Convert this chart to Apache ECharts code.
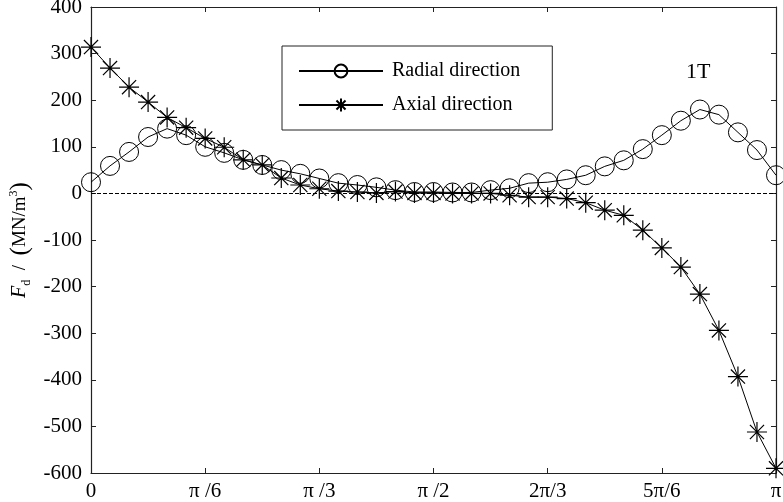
<!DOCTYPE html>
<html><head><meta charset="utf-8">
<script src="https://cdn.jsdelivr.net/npm/echarts@6/dist/echarts.min.js"></script>
<style>html,body{margin:0;padding:0;background:#fff}#c{width:783px;height:502px}</style>
</head><body><div id="c"></div>
<script>
const angles = [0,5,10,15,20,25,30,35,40,45,50,55,60,65,70,75,80,85,90,95,100,105,110,115,120,125,130,135,140,145,150,155,160,165,170,175,180];
const radial = [24,59,89,121,139,125,100,87,72,61,50,42,32,22,18,13,7,3,3,2,2,7,11,22,24,30,39,58,71,95,125,156,180,169,131,93,39];
const axial = [314,269,228,196,163,141,118,99,72,61,33,18,10,5,3,1,4,1,1,0,0,0,-4,-8,-8,-11,-20,-36,-47,-79,-117,-158,-216,-294,-393,-512,-590];
const xTickLabels = {0:'0',30:'\u03c0 /6',60:'\u03c0 /3',90:'\u03c0 /2',120:'2\u03c0/3',150:'5\u03c0/6',180:'\u03c0'};
const seriesNames = ['Radial direction','Axial direction'];

const FONT = '"Liberation Serif","Times New Roman",serif';
const star = 'path://M0,-10L0,10M-10,0L10,0M-7.07,-7.07L7.07,7.07M-7.07,7.07L7.07,-7.07';
const chart = echarts.init(document.getElementById('c'));
const axisLine = {show:true, onZero:false, lineStyle:{color:'#222', width:1.2}};
const tick = {show:true, inside:true, length:5, lineStyle:{color:'#222'}};
chart.setOption({
  animation:false,
  backgroundColor:'#fff',
  grid:{left:91, right:7, top:7, bottom:29, containLabel:false, outerBoundsMode:'none'},
  legend:{
    orient:'vertical', left:282, top:46,
    data:seriesNames,
    itemWidth:84, itemHeight:16, itemGap:14,
    borderColor:'#222', borderWidth:1,
    padding:[15,32,15,16],
    textStyle:{fontFamily:FONT, fontSize:20, color:'#000', padding:[0,0,0,4]}
  },
  xAxis:[{
    type:'value', min:0, max:180, interval:30,
    axisLine:axisLine, axisTick:tick,
    splitLine:{show:false},
    axisLabel:{formatter:v=>xTickLabels[v]||'', fontFamily:FONT, fontSize:21, color:'#000', margin:8}
  },{
    type:'value', min:0, max:180, interval:30, position:'top',
    axisLine:axisLine, axisTick:tick,
    axisLabel:{show:false}, splitLine:{show:false}
  }],
  yAxis:[{
    type:'value', min:-600, max:400, interval:100,
    axisLine:axisLine, axisTick:tick,
    splitLine:{show:false},
    axisLabel:{fontFamily:FONT, fontSize:21, color:'#000', margin:9},
    name:'{i|F}{sub|d}  /  {p|(}MN/m{sup|3}{p|)}',
    nameLocation:'middle', nameGap:58, nameRotate:90,
    nameTextStyle:{fontFamily:FONT, fontSize:19, color:'#000',
      rich:{i:{fontFamily:FONT, fontStyle:'italic', fontSize:20},
            p:{fontFamily:FONT, fontSize:25},
            sub:{fontFamily:FONT, fontSize:12, verticalAlign:'bottom', padding:[8,0,0,0]},
            sup:{fontFamily:FONT, fontSize:12, verticalAlign:'top', padding:[0,0,8,0]}}}
  },{
    type:'value', min:-600, max:400, interval:100, position:'right',
    axisLine:axisLine, axisTick:tick,
    axisLabel:{show:false}, splitLine:{show:false}
  }],
  graphic:[{type:'text', left:686, top:61, style:{text:'1T', fontFamily:FONT, fontSize:22, fill:'#000'}}],
  series:[{
    name:seriesNames[0], type:'line',
    data:angles.map((a,i)=>[a,radial[i]]),
    symbol:'circle', symbolSize:19, showAllSymbol:true,
    lineStyle:{color:'#000', width:1},
    itemStyle:{color:'rgba(0,0,0,0)', borderColor:'#000', borderWidth:1},
    markLine:{silent:true, symbol:'none', label:{show:false},
      lineStyle:{color:'#000', type:[4,2], width:1}, data:[{yAxis:0}]},
    z:3
  },{
    name:seriesNames[1], type:'line',
    data:angles.map((a,i)=>[a,axial[i]]),
    symbol:star, symbolSize:20, showAllSymbol:true,
    lineStyle:{color:'#000', width:1},
    itemStyle:{color:'rgba(0,0,0,0)', borderColor:'#000', borderWidth:1.2},
    z:4
  }]
});
</script></body></html>
